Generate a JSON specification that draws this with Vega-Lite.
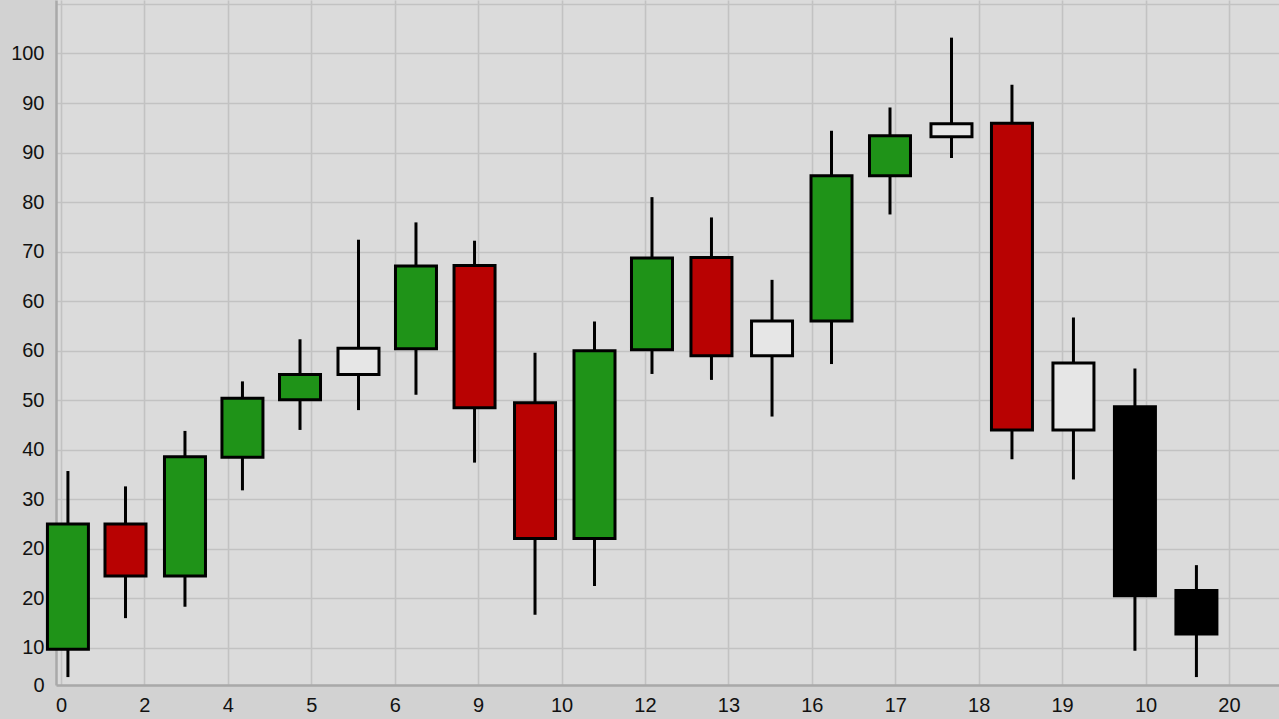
{
  "$schema": "https://vega.github.io/schema/vega-lite/v6.json",
  "autosize": {"type": "none"},
  "padding": {"left": 56, "top": 0, "right": 0, "bottom": 34},
  "width": 1223,
  "height": 685,
  "background": "#d2d2d2",
  "config": {
    "view": {"fill": "#dbdbdb", "stroke": null},
    "axis": {
      "labelFont": "Liberation Sans",
      "labelFontSize": 20,
      "labelColor": "#111111",
      "gridColor": "#c2c2c2",
      "gridWidth": 1.6,
      "domainColor": "#a9a9a9",
      "domainWidth": 2.5,
      "tickSize": 0,
      "labelFlush": false,
      "labelOverlap": false,
      "labelBound": false,
      "title": null
    }
  },
  "data": {
    "values": [
      {"t": 0.083, "open": 9.7, "close": 35.0, "high": 45.7, "low": 4.1, "kind": "up"},
      {"t": 0.773, "open": 35.0, "close": 24.5, "high": 42.6, "low": 16.0, "kind": "down"},
      {"t": 1.486, "open": 24.5, "close": 48.6, "high": 53.8, "low": 18.3, "kind": "up"},
      {"t": 2.175, "open": 48.5, "close": 60.4, "high": 63.8, "low": 41.8, "kind": "up"},
      {"t": 2.865, "open": 60.1, "close": 65.2, "high": 72.3, "low": 54.0, "kind": "up"},
      {"t": 3.566, "open": 65.2, "close": 70.5, "high": 92.4, "low": 58.0, "kind": "flat"},
      {"t": 4.255, "open": 70.4, "close": 87.1, "high": 95.9, "low": 61.1, "kind": "up"},
      {"t": 4.957, "open": 87.2, "close": 58.5, "high": 92.2, "low": 47.4, "kind": "down"},
      {"t": 5.682, "open": 59.5, "close": 32.1, "high": 69.6, "low": 16.7, "kind": "down"},
      {"t": 6.395, "open": 32.1, "close": 70.0, "high": 75.9, "low": 22.5, "kind": "up"},
      {"t": 7.084, "open": 70.2, "close": 88.7, "high": 101.0, "low": 65.3, "kind": "up"},
      {"t": 7.797, "open": 88.8, "close": 69.0, "high": 96.9, "low": 64.1, "kind": "down"},
      {"t": 8.523, "open": 69.0, "close": 76.0, "high": 84.3, "low": 56.7, "kind": "flat"},
      {"t": 9.236, "open": 76.0, "close": 105.3, "high": 114.4, "low": 67.3, "kind": "up"},
      {"t": 9.937, "open": 105.3, "close": 113.4, "high": 119.1, "low": 97.5, "kind": "up"},
      {"t": 10.674, "open": 113.2, "close": 115.8, "high": 133.2, "low": 108.9, "kind": "flat"},
      {"t": 11.399, "open": 115.9, "close": 54.0, "high": 123.7, "low": 48.1, "kind": "down"},
      {"t": 12.136, "open": 54.0, "close": 67.5, "high": 76.7, "low": 44.0, "kind": "flat"},
      {"t": 12.873, "open": 58.7, "close": 20.5, "high": 66.4, "low": 9.4, "kind": "black"},
      {"t": 13.61, "open": 21.6, "close": 12.8, "high": 26.7, "low": 4.1, "kind": "black"}
    ]
  },
  "encoding": {
    "x": {
      "field": "t",
      "type": "quantitative",
      "scale": {"domain": [0, 14.54], "nice": false, "zero": false},
      "axis": {
        "values": [0, 1, 2, 3, 4, 5, 6, 7, 8, 9, 10, 11, 12, 13, 14],
        "labelExpr": "['0','2','4','5','6','9','10','12','13','16','17','18','19','10','20'][round(datum.value)]",
        "labelPadding": 10,
        "grid": true
      }
    }
  },
  "layer": [
    {
      "mark": {"type": "rule", "color": "#000000", "strokeWidth": 3},
      "encoding": {
        "y": {
          "field": "low",
          "type": "quantitative",
          "scale": {"domain": [2.5, 140.8], "nice": false, "zero": false},
          "axis": {
            "values": [2.5, 10, 20, 30, 40, 50, 60, 70, 80, 90, 100, 110, 120, 130, 140],
            "labelExpr": "['0','10','20','20','30','40','50','60','60','70','80','90','90','100',''][round(datum.value/10)]",
            "labelPadding": 12,
            "grid": true
          }
        },
        "y2": {"field": "high"}
      }
    },
    {
      "mark": {"type": "bar", "width": 41, "stroke": "#000000", "strokeWidth": 3},
      "encoding": {
        "y": {"field": "open", "type": "quantitative"},
        "y2": {"field": "close"},
        "fill": {
          "field": "kind",
          "type": "nominal",
          "scale": {"domain": ["up", "down", "flat", "black"], "range": ["#1f9318", "#b80202", "#e6e6e6", "#000000"]},
          "legend": null
        }
      }
    }
  ]
}
